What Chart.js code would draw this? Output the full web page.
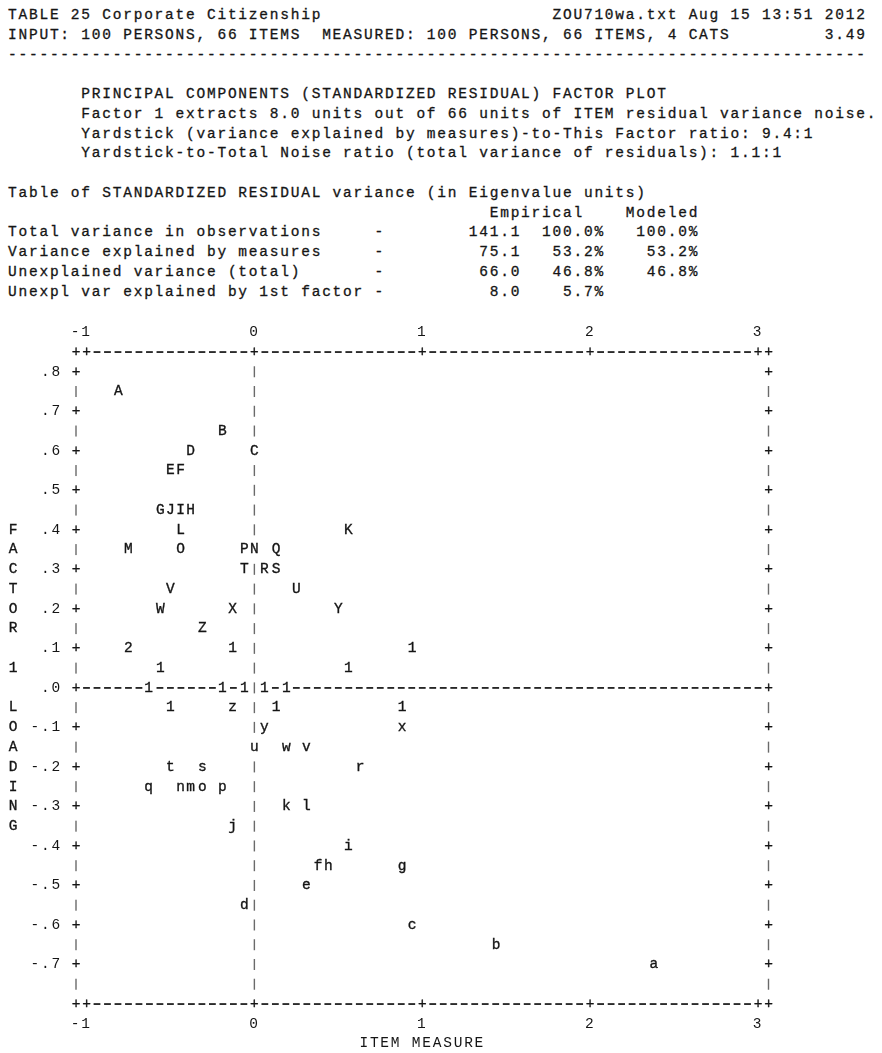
<!DOCTYPE html>
<html>
<head>
<meta charset="utf-8">
<script src="https://cdn.jsdelivr.net/npm/chart.js@4.4.1/dist/chart.umd.min.js"></script>
<style>
  html, body { margin: 0; padding: 0; background: #fff; }
  #wrap { position: relative; width: 882px; height: 1053px; overflow: hidden; }
  #head {
    position: absolute; left: 8px; top: 6px; margin: 0;
    font: 14.5px/19.76px "Liberation Mono", monospace;
    letter-spacing: 1.77px; color: #151515; white-space: pre;
    -webkit-text-stroke: 0.3px #151515;
  }
  #plot { position: absolute; left: 0; top: 0; width: 882px; height: 1053px; }
</style>
</head>
<body>
<div id="wrap">
  <pre id="head"></pre>
  <div id="plot"><canvas id="cv"></canvas></div>
</div>
<script>
// ---- Item symbols: positive-loading items (upper case) ----
const upperLabels  = ['A','B','C','D','E','F','G','H','I','J','K','L','M','N','O','P','Q','R','S','T','U','V','W','X','Y','Z'];
const upperMeasure = [-0.81,-0.19,0.00,-0.38,-0.50,-0.44,-0.56,-0.38,-0.44,-0.50,0.56,-0.44,-0.75,0.00,-0.44,-0.06,0.13,0.06,0.13,-0.06,0.25,-0.50,-0.56,-0.13,0.50,-0.31];
const upperLoading = [0.75,0.65,0.60,0.60,0.55,0.55,0.45,0.45,0.45,0.45,0.40,0.40,0.35,0.35,0.35,0.35,0.35,0.30,0.30,0.30,0.25,0.25,0.20,0.20,0.20,0.15];

// ---- Item symbols: negative-loading items (lower case) ----
const lowerLabels  = ['a','b','c','d','e','f','g','h','i','j','k','l','m','n','o','p','q','r','s','t','u','v','w','x','y','z'];
const lowerMeasure = [2.38,1.44,0.94,-0.06,0.31,0.38,0.88,0.44,0.56,-0.13,0.19,0.31,-0.38,-0.44,-0.31,-0.19,-0.63,0.63,-0.31,-0.50,0.00,0.31,0.19,0.88,0.06,-0.13];
const lowerLoading = [-0.70,-0.65,-0.60,-0.55,-0.50,-0.45,-0.45,-0.45,-0.40,-0.35,-0.30,-0.30,-0.25,-0.25,-0.25,-0.25,-0.25,-0.20,-0.20,-0.20,-0.15,-0.15,-0.15,-0.10,-0.10,-0.05];

// ---- Remaining items, shown as a count of items at the location ----
const countLabels  = ['2','1','1','1','1','1','1','1','1','1','1','1','1'];
const countMeasure = [-0.75,-0.13,0.94,-0.56,0.56,-0.63,-0.19,-0.06,0.06,0.19,-0.50,0.13,0.88];
const countLoading = [0.10,0.10,0.10,0.05,0.05,0.00,0.00,0.00,0.00,0.00,-0.05,-0.05,-0.05];

// ---- Axis ticks and titles ----
const xTickValues = [-1, 0, 1, 2, 3];
const yTickValues = [0.8, 0.7, 0.6, 0.5, 0.4, 0.3, 0.2, 0.1, 0, -0.1, -0.2, -0.3, -0.4, -0.5, -0.6, -0.7];
const xTitle = 'ITEM MEASURE';
const yTitle = 'FACTOR 1 LOADING';

// ---- Report header ----
const tableRows = [
  ['Total variance in observations', '141.1', '100.0%', '100.0%'],
  ['Variance explained by measures', '75.1', '53.2%', '53.2%'],
  ['Unexplained variance (total)', '66.0', '46.8%', '46.8%'],
  ['Unexpl var explained by 1st factor', '8.0', '5.7%', '']
];

// Plot grid: 16 character columns per logit, 0.05 loading per text row
const X_MIN = -1.0625, X_MAX = 3.0625, Y_MIN = -0.8, Y_MAX = 0.85;
const COLS_PER_UNIT = 16, ROW_STEP = 0.05;
const FONT_FAMILY = '"Liberation Mono", monospace';
const FONT_SIZE = 14.5;
const INK = '#151515';

// place strings on a fixed-width text line: [[column, text, alignRight], ...]
function place(parts) {
  let line = [];
  parts.forEach(([col, text, right]) => {
    const start = right ? col - text.length + 1 : col;
    for (let i = 0; i < text.length; i++) line[start + i] = text[i];
  });
  let s = '';
  for (let i = 0; i < line.length; i++) s += line[i] === undefined ? ' ' : line[i];
  return s;
}

const headerLines = [
  place([[0, 'TABLE 25 Corporate Citizenship'], [52, 'ZOU710wa.txt Aug 15 13:51 2012']]),
  place([[0, 'INPUT: 100 PERSONS, 66 ITEMS  MEASURED: 100 PERSONS, 66 ITEMS, 4 CATS'], [81, '3.49', true]]),
  '-'.repeat(82),
  '',
  place([[7, 'PRINCIPAL COMPONENTS (STANDARDIZED RESIDUAL) FACTOR PLOT']]),
  place([[7, 'Factor 1 extracts 8.0 units out of 66 units of ITEM residual variance noise.']]),
  place([[7, 'Yardstick (variance explained by measures)-to-This Factor ratio: 9.4:1']]),
  place([[7, 'Yardstick-to-Total Noise ratio (total variance of residuals): 1.1:1']]),
  '',
  'Table of STANDARDIZED RESIDUAL variance (in Eigenvalue units)',
  place([[54, 'Empirical', true], [65, 'Modeled', true]])
].concat(tableRows.map(r => place([[0, r[0]], [35, '-'], [48, r[1], true], [56, r[2], true], [65, r[3], true]])));

document.getElementById('head').textContent = headerLines.join('\n');

function points(xs, ys) { return xs.map((x, i) => ({ x: x, y: ys[i] })); }

function cellOf(x, y) {
  return Math.round((x - X_MIN) * COLS_PER_UNIT) + ':' + Math.round((Y_MAX - y) / ROW_STEP);
}

function inkText(ctx, ch, px, py) {
  ctx.fillText(ch, px, py);
  ctx.strokeText(ch, px, py);
}

function drawGlyph(ctx, ch, px, py) {
  if (ch === '-') {
    ctx.fillStyle = INK;
    ctx.fillRect(px - 3.4, py - 0.8, 6.8, 1.7);
  } else if (ch === '|') {
    ctx.fillStyle = '#6a6a6a';
    ctx.fillRect(px - 0.7, py - 5.5, 1.4, 11);
  } else {
    ctx.fillStyle = INK;
    inkText(ctx, ch, px, py);
  }
}

// Text-style frame, zero lines and item symbols, drawn on the chart's scales
const textPlot = {
  id: 'textPlot',
  beforeDraw(chart) { chart.ctx.letterSpacing = '1.77px'; },
  beforeDatasetsDraw(chart) {
    const ctx = chart.ctx, xs = chart.scales.x, ys = chart.scales.y;
    const taken = new Set();
    chart.data.datasets.forEach(ds => ds.data.forEach(p => taken.add(cellOf(p.x, p.y))));
    const nCols = Math.round((X_MAX - X_MIN) * COLS_PER_UNIT);
    const nRows = Math.round((Y_MAX - Y_MIN) / ROW_STEP);
    const tickCols = new Set([0, nCols].concat(xTickValues.map(v => Math.round((v - X_MIN) * COLS_PER_UNIT))));
    const zeroCol = Math.round((0 - X_MIN) * COLS_PER_UNIT);
    const zeroRow = Math.round((Y_MAX - 0) / ROW_STEP);
    ctx.save();
    ctx.letterSpacing = '0px';
    ctx.font = FONT_SIZE + 'px ' + FONT_FAMILY;
    ctx.textAlign = 'center';
    ctx.textBaseline = 'middle';
    ctx.strokeStyle = INK;
    ctx.lineWidth = 0.35;
    for (let r = 0; r <= nRows; r++) {
      const vy = Y_MAX - r * ROW_STEP;
      const py = ys.getPixelForValue(vy);
      const major = Math.abs(vy * 10 - Math.round(vy * 10)) < 1e-6;
      for (let c = 0; c <= nCols; c++) {
        if (taken.has(c + ':' + r)) continue;
        const px = xs.getPixelForValue(X_MIN + c / COLS_PER_UNIT);
        let ch = null;
        if (r === 0 || r === nRows) ch = tickCols.has(c) ? '+' : '-';
        else if (c === 0 || c === nCols) ch = major ? '+' : '|';
        else if (c === zeroCol) ch = '|';
        else if (r === zeroRow) ch = '-';
        if (ch) drawGlyph(ctx, ch, px, py);
      }
    }
    ctx.restore();
  },
  afterDatasetsDraw(chart) {
    const ctx = chart.ctx, xs = chart.scales.x, ys = chart.scales.y;
    ctx.save();
    ctx.letterSpacing = '0px';
    ctx.font = FONT_SIZE + 'px ' + FONT_FAMILY;
    ctx.textAlign = 'center';
    ctx.textBaseline = 'middle';
    ctx.fillStyle = INK;
    ctx.strokeStyle = INK;
    ctx.lineWidth = 0.35;
    chart.data.datasets.forEach((ds, i) => {
      chart.getDatasetMeta(i).data.forEach((el, j) => inkText(ctx, ds.symbols[j], el.x, el.y));
    });
    // vertical axis title, one letter per text row
    const tx = xs.getPixelForValue(X_MIN - 6 / COLS_PER_UNIT);
    for (let k = 0; k < yTitle.length; k++) {
      inkText(ctx, yTitle[k], tx, ys.getPixelForValue(0.4 - k * ROW_STEP));
    }
    ctx.restore();
  }
};

const tickFont = { family: FONT_FAMILY, size: FONT_SIZE, lineHeight: 1.2 };
const setXTicks = s => { s.ticks = xTickValues.map(v => ({ value: v })); };
const xLabel = v => (v < 0 ? v + ' ' : String(v));

new Chart(document.getElementById('cv'), {
  type: 'scatter',
  data: {
    datasets: [
      { label: 'Positive loadings', data: points(upperMeasure, upperLoading), symbols: upperLabels },
      { label: 'Negative loadings', data: points(lowerMeasure, lowerLoading), symbols: lowerLabels },
      { label: 'Item counts', data: points(countMeasure, countLoading), symbols: countLabels }
    ]
  },
  options: {
    responsive: true,
    maintainAspectRatio: false,
    animation: false,
    layout: { padding: { left: 0, top: 0, bottom: 0, right: 113.5 } },
    elements: { point: { radius: 0, hoverRadius: 0 } },
    plugins: { legend: { display: false }, tooltip: { enabled: false } },
    events: [],
    scales: {
      x: {
        type: 'linear', position: 'top', min: X_MIN, max: X_MAX,
        grid: { display: false, drawTicks: false }, border: { display: false },
        afterBuildTicks: setXTicks,
        afterFit: s => { s.height = 352; },
        ticks: { font: tickFont, color: INK, padding: 11.3, maxRotation: 0, callback: xLabel }
      },
      x2: {
        type: 'linear', position: 'bottom', min: X_MIN, max: X_MAX,
        grid: { display: false, drawTicks: false }, border: { display: false },
        afterBuildTicks: setXTicks,
        afterFit: s => { s.height = 49; },
        ticks: { font: tickFont, color: INK, padding: 11.1, maxRotation: 0, callback: xLabel },
        title: { display: true, text: xTitle, font: tickFont, color: INK, padding: { top: 0, bottom: 0.7 } }
      },
      y: {
        type: 'linear', position: 'left', min: Y_MIN, max: Y_MAX,
        grid: { display: false, drawTicks: false }, border: { display: false },
        afterBuildTicks: s => { s.ticks = yTickValues.map(v => ({ value: v })); },
        afterFit: s => { s.width = 76; },
        ticks: {
          font: tickFont, color: INK, padding: 14,
          callback: v => (v < 0 ? '-' : '') + '.' + Math.round(Math.abs(v) * 10)
        }
      }
    }
  },
  plugins: [textPlot]
});
</script>
</body>
</html>
